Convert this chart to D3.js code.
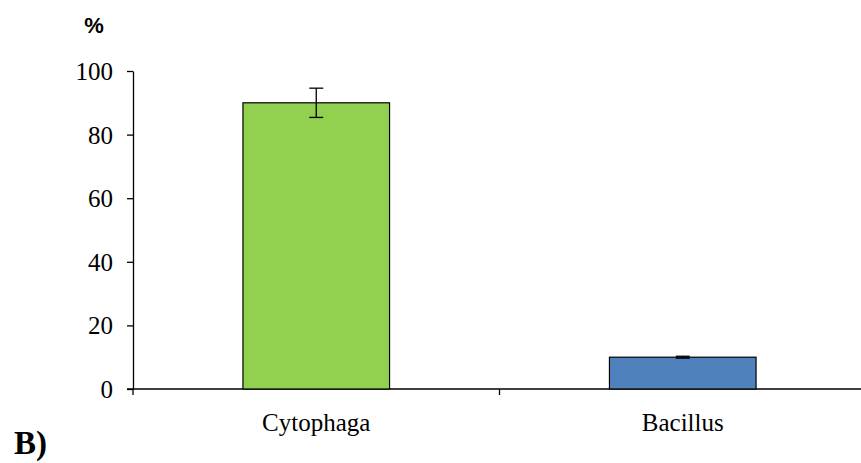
<!DOCTYPE html>
<html>
<head>
<meta charset="utf-8">
<script src="https://cdn.jsdelivr.net/npm/d3@7"></script>
<style>
  body { margin: 0; background: #fff; }
  svg text { fill: #000; }
</style>
</head>
<body>
<script>
// bar chart: percent of isolates by genus
var categories = ["Cytophaga", "Bacillus"];
var values = [90, 10];
var errors = [4.6, 0.3];
var colors = ["#92d050", "#4f81bd"];
var yTicks = [0, 20, 40, 60, 80, 100];

var width = 861, height = 463;
var serif = "'Liberation Serif', 'Times New Roman', serif";

var svg = d3.select("body")
  .append("svg")
  .attr("width", width)
  .attr("height", height);

// band layout: ticks at band edges, bars centered
var left = 133, right = 866;
var step = (right - left) / categories.length;
var xc = d3.scalePoint().domain(categories).range([left + step / 2, right - step / 2]);
var barW = step * 0.4;

var y = d3.scaleLinear()
  .domain([0, 100])
  .range([389, 71]);

// y axis
var yAxis = svg.append("g")
  .attr("transform", "translate(" + left + ",0)")
  .call(d3.axisLeft(y).tickValues(yTicks).tickSize(6).tickSizeOuter(0).tickPadding(14));
yAxis.select(".domain").attr("stroke", "#000").attr("stroke-width", 1.3);
yAxis.selectAll(".tick line").attr("stroke", "#000").attr("stroke-width", 1.3);
yAxis.selectAll("text")
  .attr("font-family", null)
  .attr("dy", "0.34em")
  .style("font-family", serif)
  .style("font-size", "25px");

// x axis
var xAxis = svg.append("g")
  .attr("transform", "translate(0,389)");
xAxis.append("line")
  .attr("x1", left - 6).attr("x2", width)
  .attr("stroke", "#000").attr("stroke-width", 1.3);
xAxis.selectAll(".xtick")
  .data(d3.range(categories.length + 1))
  .enter()
  .append("line")
  .attr("x1", function (d) { return left + d * step; })
  .attr("x2", function (d) { return left + d * step; })
  .attr("y1", 0).attr("y2", 6)
  .attr("stroke", "#000").attr("stroke-width", 1.3);
xAxis.selectAll(".xlabel")
  .data(categories)
  .enter()
  .append("text")
  .attr("x", function (d) { return xc(d); })
  .attr("y", 42)
  .attr("text-anchor", "middle")
  .style("font-family", serif)
  .style("font-size", "25px")
  .text(function (d) { return d; });

// bars
svg.selectAll(".bar")
  .data(categories)
  .enter()
  .append("rect")
  .attr("x", function (d) { return xc(d) - barW / 2; })
  .attr("y", function (d, i) { return y(values[i]); })
  .attr("width", barW)
  .attr("height", function (d, i) { return y(0) - y(values[i]); })
  .attr("fill", function (d, i) { return colors[i]; })
  .attr("stroke", "#000")
  .attr("stroke-width", 1.2);

// error bars
var capW = 14;
categories.forEach(function (c, i) {
  var cx = xc(c);
  var g = svg.append("g").attr("stroke", "#000").attr("stroke-width", 1.3);
  g.append("line")
    .attr("x1", cx).attr("x2", cx)
    .attr("y1", y(values[i] + errors[i])).attr("y2", y(values[i] - errors[i]));
  [values[i] + errors[i], values[i] - errors[i]].forEach(function (v) {
    g.append("line")
      .attr("x1", cx - capW / 2).attr("x2", cx + capW / 2)
      .attr("y1", y(v)).attr("y2", y(v));
  });
});

// axis title
svg.append("text")
  .attr("x", 94)
  .attr("y", 33)
  .attr("text-anchor", "middle")
  .style("font-family", "'Liberation Sans', Arial, sans-serif")
  .style("font-weight", "bold")
  .style("font-size", "22px")
  .text("%");

// panel letter
svg.append("text")
  .attr("x", 14)
  .attr("y", 454)
  .style("font-family", serif)
  .style("font-weight", "bold")
  .style("font-size", "33px")
  .text("B)");
</script>
</body>
</html>
